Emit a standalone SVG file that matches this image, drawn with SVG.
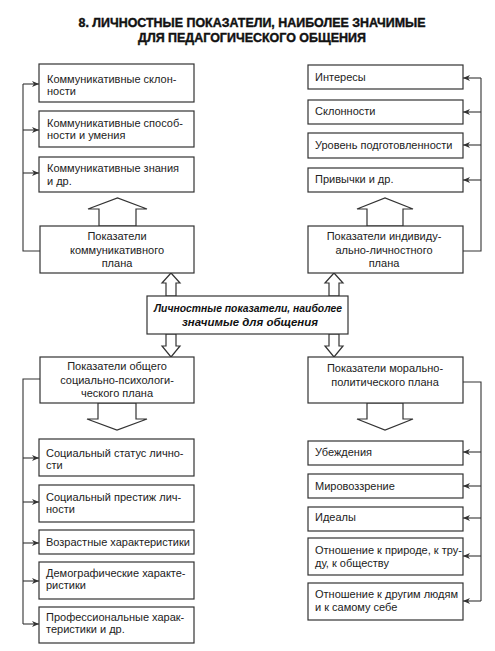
<svg xmlns="http://www.w3.org/2000/svg" width="495" height="651" viewBox="0 0 495 651">
<style>
.b{fill:#fff;stroke:#333;stroke-width:1.2}
.t{font-family:"Liberation Sans",Arial,sans-serif;font-size:11px;fill:#222}
.c{text-anchor:middle}
.h{font-family:"Liberation Sans",Arial,sans-serif;font-size:12.5px;font-weight:bold;fill:#111;stroke:#111;stroke-width:0.4;text-anchor:middle}
.m{font-family:"Liberation Sans",Arial,sans-serif;font-size:11px;font-weight:bold;font-style:italic;fill:#111;text-anchor:middle}
.l{fill:none;stroke:#333;stroke-width:1.1}
.a{fill:none;stroke:#333;stroke-width:1.1;marker-end:url(#ar)}
.ba{fill:#fff;stroke:#333;stroke-width:1.2;stroke-linejoin:miter}
</style>
<defs>
<marker id="ar" markerWidth="8" markerHeight="6" refX="7" refY="3" orient="auto" markerUnits="userSpaceOnUse">
<path d="M0,0 L7,3 L0,6 L2,3 Z" fill="#333"/>
</marker>
</defs>
<rect width="495" height="651" fill="#fff"/>
<g id="title">
<text class="h" x="252" y="27" textLength="347" lengthAdjust="spacingAndGlyphs">8. ЛИЧНОСТНЫЕ ПОКАЗАТЕЛИ, НАИБОЛЕЕ ЗНАЧИМЫЕ</text>
<text class="h" x="252" y="42" textLength="228" lengthAdjust="spacingAndGlyphs">ДЛЯ ПЕДАГОГИЧЕСКОГО ОБЩЕНИЯ</text>
</g>
<g id="connectors">
<polyline class="l" points="40,251 23,251 23,84"/>
<line class="a" x1="23" y1="84" x2="39" y2="84"/>
<line class="a" x1="23" y1="130" x2="39" y2="130"/>
<line class="a" x1="23" y1="173" x2="39" y2="173"/>
<polyline class="l" points="463,251 481,251 481,78"/>
<line class="a" x1="481" y1="78" x2="463" y2="78"/>
<line class="a" x1="481" y1="112" x2="463" y2="112"/>
<line class="a" x1="481" y1="145" x2="463" y2="145"/>
<line class="a" x1="481" y1="180" x2="463" y2="180"/>
<polyline class="l" points="40,379 23,379 23,624"/>
<line class="a" x1="23" y1="458" x2="39" y2="458"/>
<line class="a" x1="23" y1="502" x2="39" y2="502"/>
<line class="a" x1="23" y1="543" x2="39" y2="543"/>
<line class="a" x1="23" y1="581" x2="39" y2="581"/>
<line class="a" x1="23" y1="624" x2="39" y2="624"/>
<polyline class="l" points="463,382 481,382 481,601"/>
<line class="a" x1="481" y1="452" x2="463" y2="452"/>
<line class="a" x1="481" y1="486" x2="463" y2="486"/>
<line class="a" x1="481" y1="518" x2="463" y2="518"/>
<line class="a" x1="481" y1="556" x2="463" y2="556"/>
<line class="a" x1="481" y1="601" x2="463" y2="601"/>
<polygon class="ba" points="99,226 99,209 88,209 117.5,198 147,209 136,209 136,226"/>
<polygon class="ba" points="367,226 367,209 357,209 385,198 413,209 403,209 403,226"/>
<polygon class="ba" points="98,403 98,419 87,419 117,430 147,419 136,419 136,403"/>
<polygon class="ba" points="367,403 367,419 357,419 385,430 413,419 403,419 403,403"/>
<polygon class="ba" points="166,296 166,283 162,283 171,273 180,283 176,283 176,296"/>
<polygon class="ba" points="329,296 329,283 325,283 334,273 343,283 339,283 339,296"/>
<polygon class="ba" points="166,334 166,346 162,346 171,357 180,346 176,346 176,334"/>
<polygon class="ba" points="329,334 329,346 325,346 334,357 343,346 339,346 339,334"/>
</g>
<g id="n-komm-sklonnosti"><rect class="b" x="39" y="64" width="155" height="38"/><text class="t" x="47" y="83">Коммуникативные склон-</text><text class="t" x="47" y="95">ности</text></g>
<g id="n-komm-sposobnosti"><rect class="b" x="39" y="111" width="155" height="36"/><text class="t" x="47" y="127">Коммуникативные способ-</text><text class="t" x="47" y="139">ности и умения</text></g>
<g id="n-komm-znaniya"><rect class="b" x="39" y="157" width="155" height="35"/><text class="t" x="47" y="172">Коммуникативные  знания</text><text class="t" x="47" y="185">и др.</text></g>
<g id="n-interesy"><rect class="b" x="308" y="65" width="155" height="24"/><text class="t" x="315" y="81">Интересы</text></g>
<g id="n-sklonnosti"><rect class="b" x="308" y="100" width="155" height="24"/><text class="t" x="315" y="115">Склонности</text></g>
<g id="n-uroven"><rect class="b" x="308" y="133" width="155" height="25"/><text class="t" x="315" y="149">Уровень подготовленности</text></g>
<g id="n-privychki"><rect class="b" x="308" y="168" width="155" height="24"/><text class="t" x="315" y="183">Привычки и др.</text></g>
<g id="n-komm-plan"><rect class="b" x="40" y="226" width="154" height="47"/><text class="t c" x="117" y="240">Показатели</text><text class="t c" x="117" y="254">коммуникативного</text><text class="t c" x="117" y="267">плана</text></g>
<g id="n-ind-plan"><rect class="b" x="308" y="226" width="155" height="47"/><text class="t c" x="384" y="240">Показатели индивиду-</text><text class="t c" x="384" y="254">ально-личностного</text><text class="t c" x="384" y="267">плана</text></g>
<g id="n-center"><rect class="b" x="147" y="296" width="201" height="38"/><text class="m" x="248" y="312" textLength="188" lengthAdjust="spacingAndGlyphs">Личностные показатели, наиболее</text><text class="m" x="250" y="326" textLength="136" lengthAdjust="spacingAndGlyphs">значимые для общения</text></g>
<g id="n-soc-plan"><rect class="b" x="40" y="357" width="154" height="46"/><text class="t c" x="117" y="370">Показатели общего</text><text class="t c" x="117" y="384">социально-психологи-</text><text class="t c" x="117" y="397">ческого плана</text></g>
<g id="n-mor-plan"><rect class="b" x="308" y="357" width="155" height="46"/><text class="t c" x="385" y="372">Показатели морально-</text><text class="t c" x="385" y="386">политического плана</text></g>
<g id="n-status"><rect class="b" x="39" y="439" width="155" height="37"/><text class="t" x="46" y="457">Социальный статус лично-</text><text class="t" x="46" y="469">сти</text></g>
<g id="n-prestizh"><rect class="b" x="39" y="485" width="155" height="37"/><text class="t" x="46" y="501">Социальный престиж лич-</text><text class="t" x="46" y="513">ности</text></g>
<g id="n-vozrast"><rect class="b" x="39" y="530" width="155" height="24"/><text class="t" x="46" y="546">Возрастные характеристики</text></g>
<g id="n-demogr"><rect class="b" x="39" y="562" width="155" height="37"/><text class="t" x="46" y="577">Демографические характе-</text><text class="t" x="46" y="589">ристики</text></g>
<g id="n-prof"><rect class="b" x="39" y="607" width="155" height="36"/><text class="t" x="46" y="621">Профессиональные харак-</text><text class="t" x="46" y="633">теристики и др.</text></g>
<g id="n-ubezhdeniya"><rect class="b" x="308" y="441" width="155" height="24"/><text class="t" x="315" y="456">Убеждения</text></g>
<g id="n-mirovozzrenie"><rect class="b" x="308" y="474" width="155" height="24"/><text class="t" x="315" y="490">Мировоззрение</text></g>
<g id="n-idealy"><rect class="b" x="308" y="507" width="155" height="24"/><text class="t" x="315" y="521">Идеалы</text></g>
<g id="n-otn-priroda"><rect class="b" x="308" y="538" width="155" height="37"/><text class="t" x="315" y="554">Отношение к природе, к тру-</text><text class="t" x="315" y="567">ду, к обществу</text></g>
<g id="n-otn-lyudi"><rect class="b" x="308" y="583" width="155" height="37"/><text class="t" x="315" y="598">Отношение к другим людям</text><text class="t" x="315" y="611">и к самому  себе</text></g>
</svg>
